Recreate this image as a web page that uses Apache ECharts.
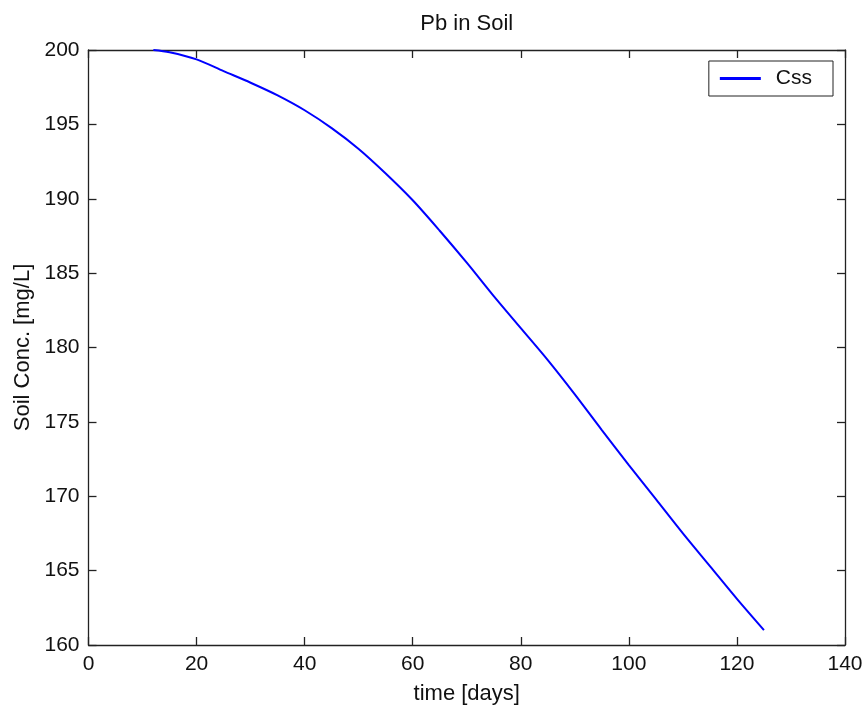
<!DOCTYPE html>
<html>
<head>
<meta charset="utf-8">
<title>Pb in Soil</title>
<script src="https://cdn.jsdelivr.net/npm/echarts@6/dist/echarts.min.js"></script>
<style>
  html, body { margin: 0; padding: 0; background: #fff; }
  #chart { width: 863px; height: 707px; }
</style>
</head>
<body>
<div id="chart"></div>
<script>
// Soil lead concentration over time
const days = [12, 15, 20, 25, 30, 35, 40, 45, 50, 55, 60, 65, 70, 75, 80, 85, 90, 95, 100, 105, 110, 115, 120, 125];
const soilConc = [200.0, 199.85, 199.37, 198.58, 197.8, 196.95, 195.95, 194.75, 193.35, 191.7, 189.9, 187.85, 185.7, 183.45, 181.3, 179.15, 176.85, 174.45, 172.1, 169.8, 167.5, 165.3, 163.1, 161.0];
const xTicks = { min: 0, max: 140, interval: 20 };
const yTicks = { min: 160, max: 200, interval: 5 };
const seriesName = 'Css';

const FONT = "'Liberation Sans', Arial, Helvetica, sans-serif";
const AXIS_COLOR = '#222';

const chart = echarts.init(document.getElementById('chart'));

function boxAxis(extra) {
  return Object.assign({
    type: 'value',
    axisLine: { show: true, onZero: false, lineStyle: { color: AXIS_COLOR, width: 1.3 } },
    axisTick: { show: true, inside: true, length: 8, lineStyle: { color: AXIS_COLOR, width: 1.3 } },
    splitLine: { show: false },
    axisLabel: { show: false }
  }, extra);
}

chart.setOption({
  animation: false,
  backgroundColor: '#fff',
  textStyle: { fontFamily: FONT, color: '#111' },
  grid: { left: 88.5, right: 18, top: 50, bottom: 62, containLabel: false, outerBoundsMode: 'none' },
  legend: {
    right: 30,
    top: 61,
    orient: 'horizontal',
    data: [{ name: seriesName, icon: 'rect' }],
    itemWidth: 41,
    itemHeight: 3,
    itemGap: 0,
    padding: [7, 21, 7, 11],
    backgroundColor: '#fff',
    borderColor: '#222',
    borderWidth: 1,
    borderRadius: 0,
    textStyle: { fontFamily: FONT, fontSize: 21, color: '#111', padding: [0, 0, 0, 10] }
  },
  xAxis: [
    boxAxis({
      position: 'bottom',
      min: xTicks.min, max: xTicks.max, interval: xTicks.interval,
      name: 'time [days]',
      nameLocation: 'middle',
      nameGap: 38,
      nameTextStyle: { fontFamily: FONT, fontSize: 22, color: '#111' },
      axisLabel: { show: true, margin: 9, fontFamily: FONT, fontSize: 21, color: '#111' }
    }),
    boxAxis({
      position: 'top',
      min: xTicks.min, max: xTicks.max, interval: xTicks.interval,
      name: 'Pb in Soil',
      nameLocation: 'middle',
      nameGap: 15,
      nameTextStyle: { fontFamily: FONT, fontSize: 22, color: '#111' }
    })
  ],
  yAxis: [
    boxAxis({
      position: 'left',
      min: yTicks.min, max: yTicks.max, interval: yTicks.interval,
      name: 'Soil Conc. [mg/L]',
      nameLocation: 'middle',
      nameGap: 55,
      nameTextStyle: { fontFamily: FONT, fontSize: 22, color: '#111' },
      axisLabel: { show: true, margin: 9, fontFamily: FONT, fontSize: 21, color: '#111' }
    }),
    boxAxis({
      position: 'right',
      min: yTicks.min, max: yTicks.max, interval: yTicks.interval
    })
  ],
  series: [{
    name: seriesName,
    type: 'line',
    xAxisIndex: 0,
    yAxisIndex: 0,
    data: days.map((d, i) => [d, soilConc[i]]),
    showSymbol: false,
    symbol: 'none',
    smooth: 0.3,
    itemStyle: { color: '#0000ff' },
    lineStyle: { color: '#0000ff', width: 2 }
  }]
});
</script>
</body>
</html>
